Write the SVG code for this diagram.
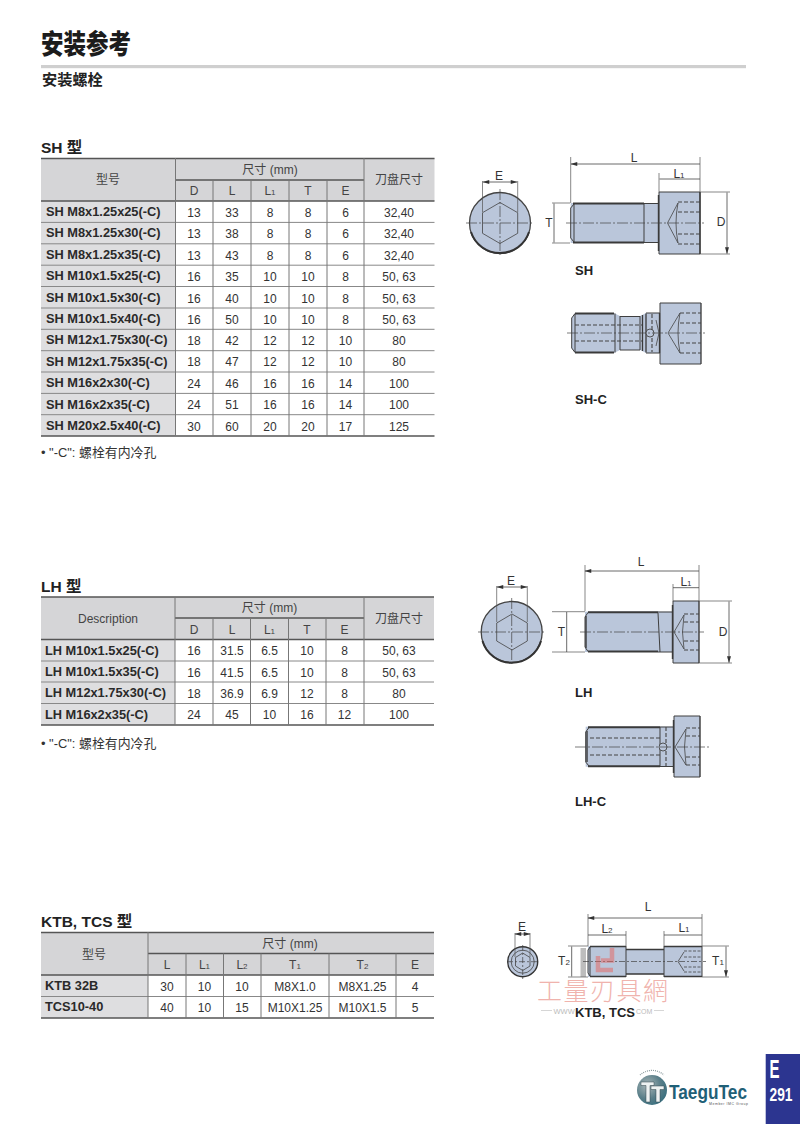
<svg xmlns="http://www.w3.org/2000/svg" width="800" height="1124" viewBox="0 0 800 1124">
<style>
text{font-family:"Liberation Sans","Noto Sans CJK SC",sans-serif;fill:#333}
.cjk{font-family:"Noto Sans CJK SC",sans-serif}
.h1{font-size:23px;font-weight:900;fill:#1c1c1c}
.h2{font-size:15.2px;font-weight:700;fill:#222}
.h3{font-size:15.5px;font-weight:700;fill:#222}
.c{font-size:12px;text-anchor:middle}
.b{font-size:12.8px;font-weight:700;fill:#2a2a2a}
.hd{font-size:12px;text-anchor:middle;fill:#444}
.n{font-size:12.9px;fill:#333}
.lab{font-size:13px;font-weight:700;fill:#222}
.dimt{font-size:12px;text-anchor:middle;fill:#333}
.s{font-size:8px}
.head{fill:#d5d5d7}
.first{fill:#dedee0}
.bd{stroke:#555;stroke-width:1.6;fill:none}
.rw{stroke:#888;stroke-width:1;fill:none}
.vl{stroke:#777;stroke-width:1;fill:none}
.bolt{fill:#bac6da;stroke:none}
.edge{stroke:#3f3f3f;stroke-width:1;fill:none}
.thr{stroke:#3a3a3a;stroke-width:1.9;fill:none}
.hid{stroke:#444;stroke-width:1.1;fill:none;stroke-dasharray:4 2}
.hids{stroke:#444;stroke-width:.8;fill:none;stroke-dasharray:3 1.500}
.thin{stroke:#444;stroke-width:.8;fill:none}
.cl{stroke:#444;stroke-width:.7;fill:none;stroke-dasharray:11 2 2 2}
.cls{stroke:#444;stroke-width:.7;fill:none;stroke-dasharray:6 2 2 2}
.rim{stroke:#333;stroke-width:2;fill:none}
.ext{stroke:#555;stroke-width:.7;fill:none}
.dim{stroke:#444;stroke-width:.8;fill:none;marker-start:url(#ar);marker-end:url(#ar)}
</style>
<defs>
<marker id="ar" viewBox="0 0 8 6" refX="7.500" refY="3" markerWidth="8" markerHeight="5" markerUnits="userSpaceOnUse" orient="auto-start-reverse"><path d="M8 3L0 0.6V5.4Z" fill="#333"/></marker>
<radialGradient id="lg" cx=".35" cy=".35" r=".8"><stop offset="0" stop-color="#aab6b8"/><stop offset=".55" stop-color="#5a7f89"/><stop offset="1" stop-color="#2f6a7c"/></radialGradient>
</defs>

<g id="title">
<text class="h1" transform="translate(41 54) scale(1 1.2)" textLength="90" lengthAdjust="spacingAndGlyphs">安装参考</text>
<rect x="41" y="65" width="705" height="3.2" fill="#cfcfcf"/>
<text class="h2" x="42" y="85">安装螺栓</text>
</g>

<g id="table-sh">
<text class="h3" x="41" y="153">SH 型</text>
<rect class="head" x="41" y="158" width="393.500" height="43"/>
<rect class="first" x="41" y="201" width="134.500" height="235"/>
<path class="bd" d="M41 158.500H434.500M41 201H434.500M175.500 180H364M41 436H434.500"/>
<path class="rw" d="M41 222.400H434.500M41 243.800H434.500M41 265.200H434.500M41 286.500H434.500M41 308H434.500M41 329.300H434.500M41 350.700H434.500M41 372H434.500M41 393.400H434.500M41 414.700H434.500"/>
<path class="vl" d="M175.500 158V436M364 158V436M213 180V436M251 180V436M289 180V436M327 180V436"/>
<text class="hd" x="108" y="184">型号</text>
<text class="hd" x="270" y="174">尺寸 (mm)</text>
<text class="hd" x="399" y="184">刀盘尺寸</text>
<text class="hd" x="194" y="195">D</text><text class="hd" x="232" y="195">L</text><text class="hd" x="270" y="195">L<tspan class="s">1</tspan></text><text class="hd" x="308" y="195">T</text><text class="hd" x="345.500" y="195">E</text>
<g><text class="b" x="46" y="216">SH M8x1.25x25(-C)</text><text class="c" x="194" y="217">13</text><text class="c" x="232" y="217">33</text><text class="c" x="270" y="217">8</text><text class="c" x="308" y="217">8</text><text class="c" x="345.500" y="217">6</text><text class="c" x="399" y="217">32,40</text></g>
<g><text class="b" x="46" y="237">SH M8x1.25x30(-C)</text><text class="c" x="194" y="238">13</text><text class="c" x="232" y="238">38</text><text class="c" x="270" y="238">8</text><text class="c" x="308" y="238">8</text><text class="c" x="345.500" y="238">6</text><text class="c" x="399" y="238">32,40</text></g>
<g><text class="b" x="46" y="259">SH M8x1.25x35(-C)</text><text class="c" x="194" y="260">13</text><text class="c" x="232" y="260">43</text><text class="c" x="270" y="260">8</text><text class="c" x="308" y="260">8</text><text class="c" x="345.500" y="260">6</text><text class="c" x="399" y="260">32,40</text></g>
<g><text class="b" x="46" y="280">SH M10x1.5x25(-C)</text><text class="c" x="194" y="281">16</text><text class="c" x="232" y="281">35</text><text class="c" x="270" y="281">10</text><text class="c" x="308" y="281">10</text><text class="c" x="345.500" y="281">8</text><text class="c" x="399" y="281">50, 63</text></g>
<g><text class="b" x="46" y="302">SH M10x1.5x30(-C)</text><text class="c" x="194" y="303">16</text><text class="c" x="232" y="303">40</text><text class="c" x="270" y="303">10</text><text class="c" x="308" y="303">10</text><text class="c" x="345.500" y="303">8</text><text class="c" x="399" y="303">50, 63</text></g>
<g><text class="b" x="46" y="323">SH M10x1.5x40(-C)</text><text class="c" x="194" y="324">16</text><text class="c" x="232" y="324">50</text><text class="c" x="270" y="324">10</text><text class="c" x="308" y="324">10</text><text class="c" x="345.500" y="324">8</text><text class="c" x="399" y="324">50, 63</text></g>
<g><text class="b" x="46" y="344">SH M12x1.75x30(-C)</text><text class="c" x="194" y="345">18</text><text class="c" x="232" y="345">42</text><text class="c" x="270" y="345">12</text><text class="c" x="308" y="345">12</text><text class="c" x="345.500" y="345">10</text><text class="c" x="399" y="345">80</text></g>
<g><text class="b" x="46" y="366">SH M12x1.75x35(-C)</text><text class="c" x="194" y="366">18</text><text class="c" x="232" y="366">47</text><text class="c" x="270" y="366">12</text><text class="c" x="308" y="366">12</text><text class="c" x="345.500" y="366">10</text><text class="c" x="399" y="366">80</text></g>
<g><text class="b" x="46" y="387">SH M16x2x30(-C)</text><text class="c" x="194" y="388">24</text><text class="c" x="232" y="388">46</text><text class="c" x="270" y="388">16</text><text class="c" x="308" y="388">16</text><text class="c" x="345.500" y="388">14</text><text class="c" x="399" y="388">100</text></g>
<g><text class="b" x="46" y="409">SH M16x2x35(-C)</text><text class="c" x="194" y="409">24</text><text class="c" x="232" y="409">51</text><text class="c" x="270" y="409">16</text><text class="c" x="308" y="409">16</text><text class="c" x="345.500" y="409">14</text><text class="c" x="399" y="409">100</text></g>
<g><text class="b" x="46" y="430">SH M20x2.5x40(-C)</text><text class="c" x="194" y="431">30</text><text class="c" x="232" y="431">60</text><text class="c" x="270" y="431">20</text><text class="c" x="308" y="431">20</text><text class="c" x="345.500" y="431">17</text><text class="c" x="399" y="431">125</text></g>
<text class="n" x="41" y="457">• "-C": 螺栓有内冷孔</text>
</g>

<g id="table-lh">
<text class="h3" x="41" y="592">LH 型</text>
<rect class="head" x="41" y="597" width="393" height="42.500"/>
<rect class="first" x="41" y="639.500" width="134" height="85.500"/>
<path class="bd" d="M41 597H434M41 639.500H434M175 618H364M41 725H434"/>
<path class="rw" d="M41 661H434M41 682H434M41 703.500H434"/>
<path class="vl" d="M175 597V725M364 597V725M213 618V725M250.500 618V725M288.500 618V725M326 618V725"/>
<text class="hd" x="108" y="623">Description</text>
<text class="hd" x="269.500" y="612">尺寸 (mm)</text>
<text class="hd" x="399" y="623">刀盘尺寸</text>
<text class="hd" x="194" y="634">D</text><text class="hd" x="232" y="634">L</text><text class="hd" x="269.500" y="634">L<tspan class="s">1</tspan></text><text class="hd" x="307" y="634">T</text><text class="hd" x="344.500" y="634">E</text>
<g><text class="b" x="45" y="655">LH M10x1.5x25(-C)</text><text class="c" x="194" y="655">16</text><text class="c" x="232" y="655">31.5</text><text class="c" x="269.500" y="655">6.5</text><text class="c" x="307" y="655">10</text><text class="c" x="344.500" y="655">8</text><text class="c" x="399" y="655">50, 63</text></g>
<g><text class="b" x="45" y="676">LH M10x1.5x35(-C)</text><text class="c" x="194" y="677">16</text><text class="c" x="232" y="677">41.5</text><text class="c" x="269.500" y="677">6.5</text><text class="c" x="307" y="677">10</text><text class="c" x="344.500" y="677">8</text><text class="c" x="399" y="677">50, 63</text></g>
<g><text class="b" x="45" y="697">LH M12x1.75x30(-C)</text><text class="c" x="194" y="698">18</text><text class="c" x="232" y="698">36.9</text><text class="c" x="269.500" y="698">6.9</text><text class="c" x="307" y="698">12</text><text class="c" x="344.500" y="698">8</text><text class="c" x="399" y="698">80</text></g>
<g><text class="b" x="45" y="719">LH M16x2x35(-C)</text><text class="c" x="194" y="719">24</text><text class="c" x="232" y="719">45</text><text class="c" x="269.500" y="719">10</text><text class="c" x="307" y="719">16</text><text class="c" x="344.500" y="719">12</text><text class="c" x="399" y="719">100</text></g>
<text class="n" x="41" y="748">• "-C": 螺栓有内冷孔</text>
</g>

<g id="table-ktb">
<text class="h3" x="41" y="927">KTB, TCS 型</text>
<rect class="head" x="41" y="932" width="393" height="43"/>
<rect class="first" x="41" y="975" width="107" height="43"/>
<path class="bd" d="M41 932.500H434M41 975H434M148 953.500H434M41 1018H434"/>
<path class="rw" d="M41 996.500H434"/>
<path class="vl" d="M148 932V1018M186 953.500V1018M223.500 953.500V1018M261 953.500V1018M329 953.500V1018M396 953.500V1018"/>
<text class="hd" x="94" y="959">型号</text>
<text class="hd" x="290" y="948">尺寸 (mm)</text>
<text class="hd" x="167" y="969">L</text><text class="hd" x="204.500" y="969">L<tspan class="s">1</tspan></text><text class="hd" x="242" y="969">L<tspan class="s">2</tspan></text><text class="hd" x="295" y="969">T<tspan class="s">1</tspan></text><text class="hd" x="362.500" y="969">T<tspan class="s">2</tspan></text><text class="hd" x="415" y="969">E</text>
<g><text class="b" x="45" y="990">KTB 32B</text><text class="c" x="167" y="991">30</text><text class="c" x="204.500" y="991">10</text><text class="c" x="242" y="991">10</text><text class="c" x="295" y="991">M8X1.0</text><text class="c" x="362.500" y="991">M8X1.25</text><text class="c" x="415" y="991">4</text></g>
<g><text class="b" x="45" y="1011">TCS10-40</text><text class="c" x="167" y="1012">40</text><text class="c" x="204.500" y="1012">10</text><text class="c" x="242" y="1012">15</text><text class="c" x="295" y="1012">M10X1.25</text><text class="c" x="362.500" y="1012">M10X1.5</text><text class="c" x="415" y="1012">5</text></g>
</g>

<g id="sh-end">
<circle class="bolt" cx="500" cy="223" r="30.500"/>
<circle class="thin" cx="500" cy="223" r="30.500" style="stroke-width:1.3"/>
<path class="rim" d="M471 232A30.500 30.500 0 0 0 529 232"/>
<path class="thin" d="M500 202.500L517.700 212.700V233.300L500 243.500L482.500 233.300V212.700Z"/>
<path class="cl" d="M466 223H534M500 189V257"/>
<path class="ext" d="M482.500 181V212M517.700 181V212"/>
<path class="dim" d="M483 182H517"/>
<text class="dimt" x="499" y="180">E</text>
</g>

<g id="sh-side">
<rect class="bolt" x="570.700" y="203" width="73.500" height="40"/>
<rect class="bolt" x="644" y="203.500" width="15" height="39"/>
<rect class="bolt" x="659" y="192" width="41" height="62"/>
<path class="thr" d="M573 203.500H644M573 242.500H644"/>
<path class="edge" d="M644 203.500H659M644 242.500H659M644 204V242M659 192V254M659 192H700M659 254H700M700 192V254"/>
<path class="thr" d="M658.500 195V251M700 192V254" style="stroke-width:1.400"/>
<path class="edge" d="M574 204L570.700 208V238L574 242M574 204V242"/>
<path class="hid" d="M678 202H700M678 212H700M678 234H700M678 244H700"/>
<path class="thin" d="M678 203L667.500 223L678 243M678 203Q674 223 678 243"/>
<path class="cl" d="M566 223H704"/>
<path class="ext" d="M570.700 157V203M700 157V192M659 173V192M552 203H570M552 243H570M700 192H730M700 254H730"/>
<path class="dim" d="M571 164H700M659.500 179H700M554 203.500V242.500M727 192.500V253.500"/>
<text class="dimt" x="634" y="162">L</text>
<text class="dimt" x="679" y="178">L<tspan class="s">1</tspan></text>
<text class="dimt" x="549" y="227">T</text>
<text class="dimt" x="721" y="226">D</text>
<text class="lab" x="575" y="275">SH</text>
</g>

<g id="sh-c">
<path class="bolt" d="M571.700 318L575 313H614L620 316H640L646 313H660V303H701V364H660V353H646L640 350H620L614 353H575L571.700 348Z"/>
<path class="thr" d="M575 313.500H614M575 352.500H614"/>
<path class="edge" d="M575 313.500L571.700 318V348L575 352.500M575 314V352M615 313.500V352.500M620 316V350M620 316.500H640M620 350H640M640 316V350M660 303H701M660 364H701M660 303V364M646 313H660M646 353H660"/>
<path class="thr" d="M642.500 315V351M646 313.500V352.500M701 303V364M659.500 313V353" style="stroke-width:1.300"/>
<path class="hid" d="M575 325H642M575 341H642M652 314V352M680 313H701M680 323H701M680 343H701M680 353H701"/>
<circle cx="650" cy="333" r="4" fill="#bac6da" stroke="#444" stroke-width=".9"/>
<path class="thin" d="M656 320L659 333L656 346M680 313L668 333L680 353M680 313Q676 333 680 353"/>
<path class="cl" d="M567 333H705"/>
<text class="lab" x="575" y="404">SH-C</text>
</g>

<g id="lh-end">
<circle class="bolt" cx="511.700" cy="632" r="30.500"/>
<circle class="thin" cx="511.700" cy="632" r="30.500" style="stroke-width:1.300"/>
<path class="rim" d="M482.500 641A30.500 30.500 0 0 0 541 641"/>
<path class="thin" d="M512 614L527.300 623V641L512 650L496.700 641V623Z"/>
<path class="cl" d="M478 632H546M511.700 598V666"/>
<path class="ext" d="M496.700 586V622M527.300 586V622"/>
<path class="dim" d="M497 587H527"/>
<text class="dimt" x="511" y="585">E</text>
</g>

<g id="lh-side">
<rect class="bolt" x="585" y="611.700" width="73" height="40.300"/>
<rect class="bolt" x="658" y="611.700" width="15" height="40.300"/>
<rect class="bolt" x="673" y="601" width="26" height="62"/>
<path class="thr" d="M588 612.200H658M588 651.500H658"/>
<path class="edge" d="M658 612H673M658 652H673M658 613L660 652M673 601H699M673 663H699M673 601V663"/>
<path class="thr" d="M672.500 605V659M699 601V663M586 616V648" style="stroke-width:1.400"/>
<path class="edge" d="M588 612.500L585 617V647L588 651.500"/>
<path class="hid" d="M684 614H699M684 622H699M684 641H699M684 650H699"/>
<path class="thin" d="M684 615L674 632L684 649M684 615Q681 632 684 649"/>
<path class="cl" d="M580 632H704"/>
<path class="ext" d="M585 565V611M699 565V601M673 584V601M552 611.700H585M552 652H585M699 601H732M699 663H732"/>
<path class="dim" d="M585 571H699M673 587.700H699M566.700 612V652M729 601.500V662.500"/>
<text class="dimt" x="641" y="566">L</text>
<text class="dimt" x="686" y="586">L<tspan class="s">1</tspan></text>
<text class="dimt" x="561.500" y="636">T</text>
<text class="dimt" x="723" y="636">D</text>
<text class="lab" x="575" y="697">LH</text>
</g>

<g id="lh-c">
<rect class="bolt" x="585.700" y="726.700" width="74.300" height="40"/>
<rect class="bolt" x="660" y="726.700" width="14" height="40"/>
<rect class="bolt" x="674" y="716" width="26" height="61"/>
<path class="thr" d="M588 727.200H660M588 766.200H660"/>
<path class="edge" d="M660 727H674M660 766.500H674M660 727V767M674 716H700M674 777H700M674 716V777"/>
<path class="thr" d="M700 716V777M673.500 720V773M587 731V762" style="stroke-width:1.400"/>
<path class="edge" d="M589 727.500L585.700 732V762L589 766"/>
<path class="hid" d="M590 738H660M590 755H660M666 727V767M686 728H700M686 736H700M686 757H700M686 765H700"/>
<circle cx="663" cy="747" r="4" fill="#bac6da" stroke="#444" stroke-width=".9"/>
<path class="thin" d="M686 729L675 747L686 765M686 729Q683 747 686 765"/>
<path class="cl" d="M575 747H711"/>
<text class="lab" x="575" y="806">LH-C</text>
</g>

<g id="ktb-end">
<circle class="bolt" cx="522.700" cy="961.700" r="15"/>
<circle cx="522.700" cy="961.700" r="15" fill="none" stroke="#333" stroke-width="1.400"/>
<circle class="thin" cx="522.700" cy="961.700" r="11.500"/>
<path class="thin" d="M522.700 953L530 957.500V966L522.700 970.500L515.500 966V957.500Z"/>
<path class="cls" d="M507 961.700H539M522.700 945V981"/>
<path class="ext" d="M515 933V957M530 933V957"/>
<path class="dim" d="M515 934H530"/>
<text class="dimt" x="522" y="931">E</text>
</g>

<g id="ktb-side">
<rect x="580.500" y="948" width="5.500" height="29" fill="#bdbdbd"/>
<rect class="bolt" x="588" y="946" width="38" height="31"/>
<rect class="bolt" x="626" y="949.500" width="38" height="24.500"/>
<rect class="bolt" x="664" y="946" width="38" height="31"/>
<path class="thr" d="M590 946.500H626M590 976.500H626M664 946.500H702M664 976.500H702M626 949.500H664M626 974H664" style="stroke-width:1.300"/>
<path class="edge" d="M590 947L588 950V973L590 976M590 947V976M626 946V977M664 946V977M702 946V977"/>
<path class="hids" d="M684 951H702M684 957H702M684 967H702M684 972H702"/>
<path class="thin" d="M684 952L678 961.500L684 971"/>
<path class="cls" d="M583 961.500H706"/>
<path class="ext" d="M588 914V946M702 914V946M626 931V946M664 931V946M568 946H588M568 977H588M702 946H729M702 977H729"/>
<path class="dim" d="M588 918H702M588 935H626M664 935H702M571.700 946.500V976.500M726 946.500V976.500"/>
<text class="dimt" x="648" y="911">L</text>
<text class="dimt" x="607" y="933">L<tspan class="s">2</tspan></text>
<text class="dimt" x="684" y="932">L<tspan class="s">1</tspan></text>
<text class="dimt" x="564" y="965">T<tspan class="s">2</tspan></text>
<text class="dimt" x="718" y="965">T<tspan class="s">1</tspan></text>
</g>

<g id="watermark">
<path d="M598 956V970H613M601 960.500H612V948" fill="none" stroke="#e8625c" stroke-opacity=".5" stroke-width="4.500"/>
<text class="cjk" x="537" y="1000" font-size="25" style="fill:#f0b3ad" textLength="131" lengthAdjust="spacing" font-weight="300">工量刃具網</text>
<path d="M541 1010.500H552M654 1010.500H664" stroke="#ccc" stroke-width=".8" fill="none"/>
<text x="553.500" y="1013.500" font-size="7.500" style="fill:#bbb">WWW</text>
<text x="636" y="1013.500" font-size="7" style="fill:#bbb">COM</text>
</g>
<text class="lab" x="575" y="1017">KTB, TCS</text>

<g id="logo">
<circle cx="652" cy="1090" r="15" fill="url(#lg)"/>
<path d="M641 1082H654V1085.500H650V1102H646V1085.500H641ZM651 1086H664V1089.500H660V1102H656V1089.500H651Z" fill="#eef2f2" stroke="#33474c" stroke-width=".5"/>
<path d="M640 1075A18 18 0 0 1 664 1075" fill="none" stroke="#8a9a9d" stroke-width="1.200" stroke-dasharray="1 1"/>
<text x="669" y="1098.500" font-size="20.500" font-weight="700" style="fill:#1f6077" textLength="78" lengthAdjust="spacingAndGlyphs">TaeguTec</text>
<text x="709" y="1105" font-size="3.500" style="fill:#555" textLength="39">Member IMC Group</text>
</g>

<g id="page-tab">
<rect x="765.700" y="1054" width="34.300" height="70" fill="#2c3590"/>
<text x="769.500" y="1078" font-size="26" font-weight="700" style="fill:#fff" textLength="10" lengthAdjust="spacingAndGlyphs">E</text>
<text x="769.500" y="1101" font-size="17.500" font-weight="700" style="fill:#fff" textLength="23" lengthAdjust="spacingAndGlyphs">291</text>
</g>
</svg>
